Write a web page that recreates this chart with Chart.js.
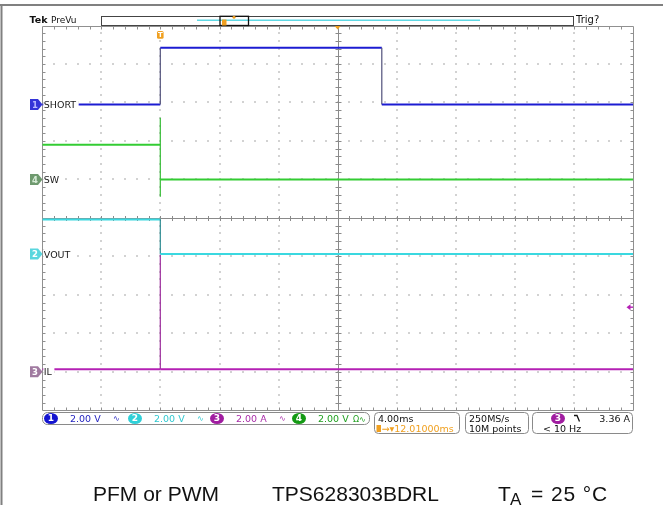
<!DOCTYPE html>
<html>
<head>
<meta charset="utf-8">
<script src="https://cdn.jsdelivr.net/npm/chart.js@4.4.0/dist/chart.umd.min.js"></script>
<style>
  html, body { margin: 0; padding: 0; background: #fff; }
  #wrap { position: relative; width: 663px; height: 505px; overflow: hidden; }
  #scope { position: absolute; left: 0; top: 0; }
  .cap { position: absolute; top: 483px; font: 21px "Liberation Sans", Arial, sans-serif; line-height: 21px; color: #111; white-space: nowrap; }
</style>
</head>
<body>
<div id="wrap">
  <canvas id="scope" width="663" height="505"></canvas>
  <div class="cap" style="left:93px">PFM or PWM</div>
  <div class="cap" style="left:272px">TPS628303BDRL</div>
  <div class="cap" style="left:498px">T</div>
  <div class="cap" style="left:510px; top:489px; font-size:17px">A</div>
  <div class="cap" style="left:531px; letter-spacing:0.9px">= 25 °C</div>
</div>
<script>
// scope settings
const timePerDiv = 4;          // ms/div
const triggerDelay = 12.01;    // ms, trigger -> centre of screen
const triggerLevel = 3.36;     // A on ch3
const sampleRate = '250MS/s';
const recordLength = '10M points';
const trigFreq = '< 10 Hz';

const xMin = triggerDelay - 5 * timePerDiv;
const xMax = triggerDelay + 5 * timePerDiv;

// traces (time in ms from trigger)
const shortTime = [xMin, 0, 0, 15, 15, xMax];
const shortVolts = [0, 0, 2.95, 2.95, 0, 0];

const swTime = [xMin, 0, 0, 0, 0, xMax];
const swVolts = [1.8, 1.8, 3.2, -0.9, 0, 0];

const voutTime = [xMin, 0, 0, xMax];
const voutVolts = [1.8, 1.8, 0, 0];

const ilTime = [xMin, 0, 0, 0, xMax];
const ilAmps = [0.14, 0.14, 6.1, 0.14, 0.14];

// channel number, label, unit, scale per div, ground marker (div from centre)
const channels = [
    { num: 1, label: 'SHORT', unit: 'V', perDiv: 2, offset: 2.95, color: '#1c1cd2', edge: '#50507a', mark: '#3434d8', markText: '#b8b8ff', chip: '#1414d0', text: '#2424c0', t: shortTime, v: shortVolts },
    { num: 4, label: 'SW', unit: 'V', perDiv: 2, offset: 1.0, color: '#33cc33', edge: '#33bb33', mark: '#6f9a6f', markText: '#d8ecd8', chip: '#149a14', text: '#20a020', t: swTime, v: swVolts },
    { num: 2, label: 'VOUT', unit: 'V', perDiv: 2, offset: -0.94, color: '#3ad8e0', edge: '#2a8a90', mark: '#5ad6de', markText: '#ffffff', chip: '#30d0d8', text: '#30c8d0', t: voutTime, v: voutVolts },
    { num: 3, label: 'IL', unit: 'A', perDiv: 2, offset: -4.0, color: '#b420b4', edge: '#9a2a9a', mark: '#a07aa0', markText: '#ffffff', chip: '#a01ca0', text: '#a82ca8', t: ilTime, v: ilAmps }
];

const orange = '#f0a020';

function boxPath(ctx, x0, y0, x1, y1, r) {
    ctx.beginPath();
    ctx.moveTo(x0 + r, y0);
    ctx.arcTo(x1, y0, x1, y1, r);
    ctx.arcTo(x1, y1, x0, y1, r);
    ctx.arcTo(x0, y1, x0, y0, r);
    ctx.arcTo(x0, y0, x1, y0, r);
    ctx.closePath();
}

function chip(ctx, cx, cy, num, color) {
    ctx.fillStyle = color;
    ctx.beginPath();
    ctx.ellipse(cx, cy, 7, 5.5, 0, 0, Math.PI * 2);
    ctx.fill();
    ctx.fillStyle = '#fff';
    ctx.font = 'bold 9px "DejaVu Sans"';
    ctx.textAlign = 'center';
    ctx.textBaseline = 'middle';
    ctx.fillText(String(num), cx, cy + 0.5);
    ctx.textAlign = 'left';
    ctx.textBaseline = 'alphabetic';
}

// Tek style graticule
const scopeGrid = {
    id: 'scopeGrid',
    beforeDatasetsDraw(chart) {
        const { ctx, chartArea: a, scales: { x, y } } = chart;
        const xs = [], ys = [];
        for (let i = 0; i <= 10; i++) xs.push(x.getPixelForValue(xMin + i * timePerDiv));
        for (let j = 0; j <= 10; j++) ys.push(y.getPixelForValue(5 - j));
        const minorX = (a.right - a.left) / 50, minorY = (a.bottom - a.top) / 50;
        ctx.save();

        // dotted lines
        ctx.fillStyle = '#d2d2d2';
        for (let i = 1; i < 10; i++) {
            if (i === 5) continue;
            for (let k = 1; k < 50; k++) {
                ctx.fillRect(Math.round(xs[i]) - 1, Math.round(a.top + k * minorY) - 1, 2, 2);
                ctx.fillRect(Math.round(a.left + k * minorX) - 1, Math.round(ys[i]) - 1, 2, 2);
            }
        }

        // centre cross with minor ticks
        ctx.strokeStyle = '#8a8a8a';
        ctx.lineWidth = 1;
        const cx = Math.round(xs[5]) + 0.5, cy = Math.round(ys[5]) + 0.5;
        ctx.beginPath();
        ctx.moveTo(cx, a.top); ctx.lineTo(cx, a.bottom);
        ctx.moveTo(a.left, cy); ctx.lineTo(a.right, cy);
        for (let k = 1; k < 50; k++) {
            const px = Math.round(a.left + k * minorX) + 0.5;
            const py = Math.round(a.top + k * minorY) + 0.5;
            ctx.moveTo(px, cy - 2.5); ctx.lineTo(px, cy + 2.5);
            ctx.moveTo(cx - 3, py); ctx.lineTo(cx + 3, py);
        }
        ctx.stroke();

        // border with inward ticks
        ctx.strokeStyle = '#909090';
        ctx.beginPath();
        const l = Math.round(a.left) + 0.5, r = Math.round(a.right) + 0.5;
        const t = Math.round(a.top) + 0.5, b = Math.round(a.bottom) + 0.5;
        ctx.rect(l, t, r - l, b - t);
        for (let k = 1; k < 50; k++) {
            const px = Math.round(a.left + k * minorX) + 0.5;
            const py = Math.round(a.top + k * minorY) + 0.5;
            ctx.moveTo(px, t); ctx.lineTo(px, t + 3);
            ctx.moveTo(px, b); ctx.lineTo(px, b - 3);
            ctx.moveTo(l, py); ctx.lineTo(l + 3, py);
            ctx.moveTo(r, py); ctx.lineTo(r - 3, py);
        }
        ctx.stroke();
        ctx.restore();
    }
};

// labels, markers, readouts
const scopeOverlay = {
    id: 'scopeOverlay',
    afterDatasetsDraw(chart) {
        const { ctx, chartArea: a, scales: { x, y } } = chart;
        ctx.save();

        // channel labels and ground markers
        ctx.font = '9.5px "DejaVu Sans"';
        channels.forEach(ch => {
            const py = y.getPixelForValue(ch.offset);
            const w = ctx.measureText(ch.label).width;
            ctx.fillStyle = '#fff';
            ctx.fillRect(a.left + 1, py - 5, w + 3, 10);
            ctx.fillStyle = '#1a1a1a';
            ctx.fillText(ch.label, a.left + 1.5, py + 3.6);
            ctx.fillStyle = ch.mark;
            ctx.beginPath();
            ctx.moveTo(30, py - 5.5); ctx.lineTo(38, py - 5.5); ctx.lineTo(42.5, py);
            ctx.lineTo(38, py + 5.5); ctx.lineTo(30, py + 5.5); ctx.closePath();
            ctx.fill();
            ctx.fillStyle = ch.markText;
            ctx.font = 'bold 8.5px "DejaVu Sans"';
            ctx.textAlign = 'center';
            ctx.fillText(String(ch.num), 35, py + 3.2);
            ctx.textAlign = 'left';
            ctx.font = '9.5px "DejaVu Sans"';
        });

        // trigger time marker
        const tx = x.getPixelForValue(0);
        ctx.fillStyle = orange;
        boxPath(ctx, tx - 3.3, 31, tx + 3.3, 38.8, 1.5);
        ctx.fill();
        ctx.fillStyle = '#fff';
        ctx.font = 'bold 7px "DejaVu Sans"';
        ctx.textAlign = 'center';
        ctx.fillText('T', tx, 37.3);
        ctx.textAlign = 'left';

        // horizontal position marker
        const hx = x.getPixelForValue(triggerDelay);
        ctx.beginPath();
        ctx.fillStyle = orange;
        ctx.moveTo(hx - 3.5, a.top); ctx.lineTo(hx + 3.5, a.top); ctx.lineTo(hx, a.top + 4);
        ctx.closePath(); ctx.fill();

        // trigger level marker (ch3)
        const il = channels.find(c => c.num === 3);
        const ty = y.getPixelForValue(il.offset + triggerLevel / il.perDiv);
        ctx.fillStyle = il.color;
        ctx.beginPath();
        ctx.moveTo(626.5, ty); ctx.lineTo(630.5, ty - 3); ctx.lineTo(630.5, ty + 3); ctx.closePath();
        ctx.fill();
        ctx.fillRect(629, ty - 0.7, 4, 1.4);

        // outer frame
        ctx.fillStyle = '#808080';
        ctx.fillRect(0, 4, 663, 2);
        ctx.fillRect(0.5, 4, 2, 501);

        // top bar
        ctx.fillStyle = '#111';
        ctx.font = 'bold 9.5px "DejaVu Sans"';
        ctx.fillText('Tek', 29.5, 22.7);
        ctx.font = '9px "DejaVu Sans"';
        ctx.fillText('PreVu', 51, 22.5);
        ctx.font = '10px "DejaVu Sans"';
        ctx.fillText('Trig?', 576, 23);
        ctx.strokeStyle = '#444';
        ctx.lineWidth = 1;
        ctx.strokeRect(101.5, 16.5, 472, 9);
        ctx.strokeStyle = '#5fd8e4';
        ctx.lineWidth = 1.5;
        ctx.beginPath(); ctx.moveTo(197, 20.3); ctx.lineTo(480, 20.3); ctx.stroke();
        ctx.strokeStyle = '#111';
        ctx.lineWidth = 1.3;
        ctx.strokeRect(220, 16.3, 28.5, 9.2);
        ctx.fillStyle = orange;
        ctx.fillRect(222, 19.5, 4.5, 6);
        ctx.beginPath(); ctx.arc(234, 17.3, 1.5, 0, Math.PI * 2); ctx.fill();

        // status bar
        ctx.strokeStyle = '#8a8a8a';
        ctx.lineWidth = 1;
        boxPath(ctx, 42.5, 412.5, 369.5, 424.5, 5); ctx.stroke();
        boxPath(ctx, 374.5, 412.5, 459.5, 433.5, 4); ctx.stroke();
        boxPath(ctx, 465.5, 412.5, 528.5, 433.5, 4); ctx.stroke();
        boxPath(ctx, 532.5, 412.5, 632.5, 433.5, 4); ctx.stroke();

        const order = [1, 2, 3, 4];
        const chipX = [51, 135, 217, 299];
        order.forEach((n, i) => {
            const ch = channels.find(c => c.num === n);
            chip(ctx, chipX[i], 418.5, n, ch.chip);
            ctx.font = '9.5px "DejaVu Sans"';
            ctx.fillStyle = ch.text;
            ctx.fillText(ch.perDiv.toFixed(2) + ' ' + ch.unit, chipX[i] + 19, 422);
            ctx.font = '8px "DejaVu Sans"';
            if (i < 3) ctx.fillText('\u223F', chipX[i] + 62, 421);
            else ctx.fillText('\u03A9\u223F', chipX[i] + 54, 421.5);
        });

        ctx.font = '9.5px "DejaVu Sans"';
        ctx.fillStyle = '#111';
        ctx.fillText(timePerDiv.toFixed(2) + 'ms', 378, 421.7);
        ctx.fillStyle = orange;
        ctx.fillRect(376.5, 425, 4.5, 7);
        ctx.fillText('\u2192\u25BE' + triggerDelay.toFixed(5) + 'ms', 381.5, 431.5);
        ctx.fillStyle = '#111';
        ctx.fillText(sampleRate, 469, 421.7);
        ctx.fillText(recordLength, 469, 431.5);

        chip(ctx, 558, 418.5, 3, il.chip);
        ctx.strokeStyle = '#111';
        ctx.lineWidth = 1.3;
        ctx.beginPath();
        ctx.moveTo(574, 415.5); ctx.lineTo(577, 415.5); ctx.lineTo(579.5, 421.5);
        ctx.stroke();
        ctx.fillStyle = '#111';
        ctx.font = '9.5px "DejaVu Sans"';
        ctx.textAlign = 'right';
        ctx.fillText(triggerLevel.toFixed(2) + ' ' + il.unit, 630, 421.7);
        ctx.textAlign = 'left';
        ctx.fillText(trigFreq, 543, 431.5);

        ctx.restore();
    }
};

const ctx = document.getElementById('scope').getContext('2d');
const scopeChart = new Chart(ctx, {
    type: 'scatter',
    data: {
        datasets: channels.map(ch => ({
            label: ch.label,
            data: ch.t.map((t, i) => ({ x: t, y: ch.offset + ch.v[i] / ch.perDiv })),
            showLine: true,
            borderColor: ch.color,
            borderWidth: 2,
            pointRadius: 0,
            tension: 0,
            segment: {
                borderWidth: s => s.p0.parsed.x === s.p1.parsed.x ? 1.2 : 2,
                borderColor: s => s.p0.parsed.x === s.p1.parsed.x ? ch.edge : ch.color
            }
        }))
    },
    options: {
        responsive: false,
        animation: false,
        events: [],
        layout: {
            padding: { left: 42.3, top: 25.5, right: 30, bottom: 94.7 }
        },
        plugins: {
            legend: { display: false },
            tooltip: { enabled: false }
        },
        scales: {
            x: { type: 'linear', display: false, min: xMin, max: xMax },
            y: { type: 'linear', display: false, min: -5, max: 5 }
        }
    },
    plugins: [scopeGrid, scopeOverlay]
});
</script>
</body>
</html>
